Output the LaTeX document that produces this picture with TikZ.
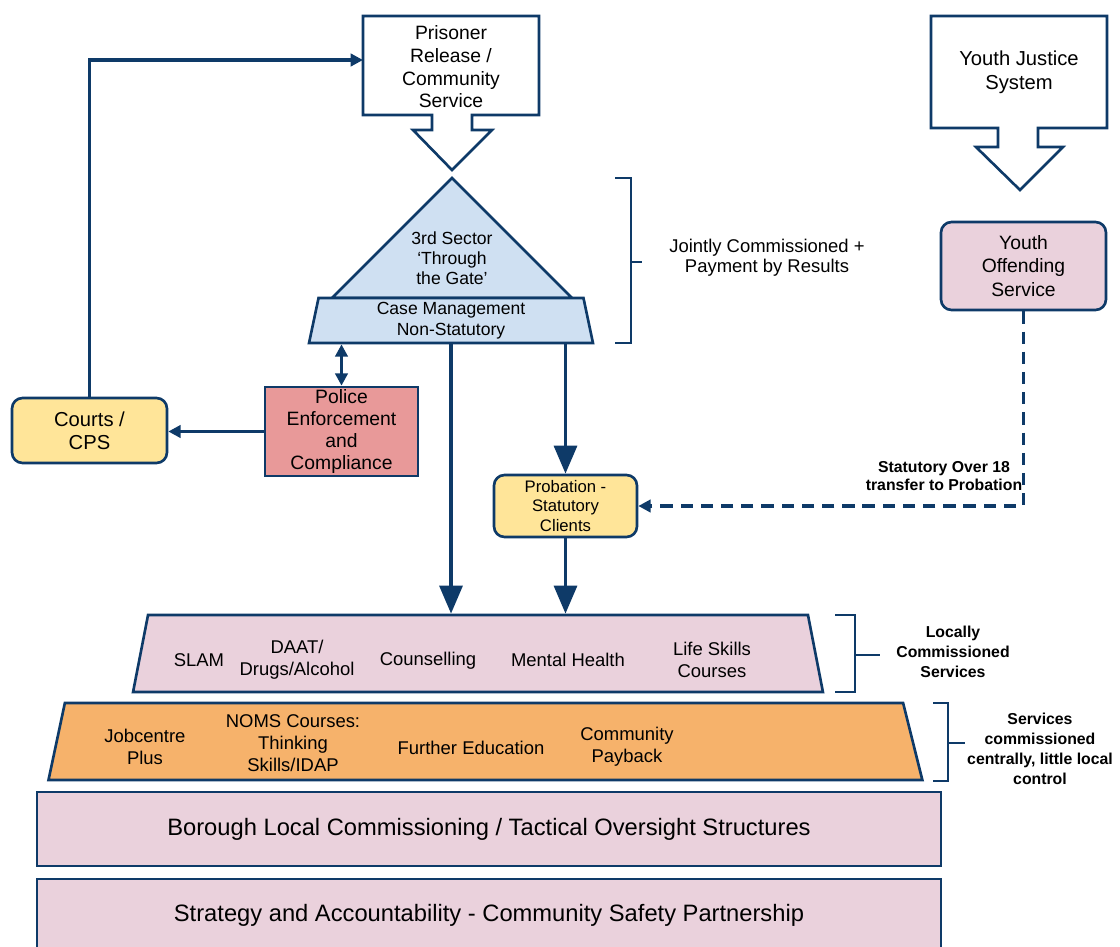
\documentclass[tikz,border=0pt]{standalone}
\usepackage{fontspec}
\setmainfont{Liberation Sans}
\usetikzlibrary{positioning,shapes.geometric,arrows.meta}

\definecolor{navy}{RGB}{14,58,104}
\definecolor{lightblue}{RGB}{207,224,242}
\definecolor{pinkbox}{RGB}{234,209,220}
\definecolor{yellowbox}{RGB}{255,229,153}
\definecolor{redbox}{RGB}{232,153,153}
\definecolor{orangebox}{RGB}{246,178,107}

\begin{document}
\begin{tikzpicture}[x=0.02cm, y=-0.02cm, line width=1.5pt,
  box/.style={draw=navy, fill=white, inner sep=0pt, align=center},
  rbox/.style={box, rounded corners=6pt},
  tbox/.style={trapezium, draw=navy, trapezium stretches body, inner sep=0pt, align=center},
  lbl/.style={align=center, inner sep=0pt},
  conn/.style={draw=navy, line width=2.2pt, -{Triangle[length=16pt,width=13pt]}},
  sconn/.style={draw=navy, line width=1.8pt, -{Triangle[length=7pt,width=7pt]}},
  itemfont/.style={font=\fontsize{10.5}{12.5}\selectfont},
  sidefont/.style={font=\bfseries\fontsize{9}{11.4}\selectfont}]
\useasboundingbox (0,0) rectangle (1120,947);
\clip (0,0) rectangle (1120,947);

\draw[navy, fill=white] (363,16) -- (539,16) -- (539,115) -- (472,115) -- (472,130) -- (492,130) -- (452,170) -- (413,130) -- (432,130) -- (432,115) -- (363,115) -- cycle;
\node[lbl, font=\fontsize{11}{12.9}\selectfont] (pris) at (451,67) {Prisoner\\Release /\\Community\\Service};
\coordinate (prisin) at (363,60);

\draw[navy, fill=white] (931,16) -- (1107,16) -- (1107,128) -- (1038,128) -- (1038,147) -- (1063,147) -- (1020,190) -- (976,147) -- (998,147) -- (998,128) -- (931,128) -- cycle;
\node[lbl, font=\fontsize{11.5}{13.6}\selectfont] (yjs) at (1019,72) {Youth Justice\\System};

\draw[navy, fill=lightblue] (452,178) -- (572,298) -- (332,298) -- cycle;
\node[lbl, font=\fontsize{10}{11.3}\selectfont] (gate) at (452,258) {3rd Sector\\`Through\\the Gate'};
\node[tbox, fill=lightblue, inner ysep=2.2pt, minimum width=5.68cm, minimum height=0.9cm, trapezium left angle=78, trapezium right angle=78, font=\fontsize{10}{12}\selectfont] (cm) at (451,320.5) {Case Management\\Non-Statutory};

\node[rbox, fill=pinkbox, minimum width=3.3cm, minimum height=1.76cm, font=\fontsize{11}{13.6}\selectfont] (yos) at (1023.5,266) {Youth\\Offending\\Service};
\node[rbox, fill=yellowbox, minimum width=3.1cm, minimum height=1.3cm, font=\fontsize{11.5}{13}\selectfont] (courts) at (89.5,430.5) {Courts /\\CPS};
\node[box, fill=redbox, minimum width=3.06cm, minimum height=1.78cm, font=\fontsize{11}{12.6}\selectfont] (police) at (341.5,431.5) {Police\\Enforcement\\and\\Compliance};
\node[rbox, fill=yellowbox, minimum width=2.86cm, minimum height=1.24cm, font=\fontsize{9.5}{11.3}\selectfont] (prob) at (565.5,506) {Probation -\\Statutory\\Clients};

\node[tbox, fill=pinkbox, minimum width=13.8cm, trapezium left angle=79, trapezium right angle=79] (loc) at (478,653.5) {\rule{0pt}{1.54cm}};
\node[lbl, itemfont] (slam) at (199,660) {SLAM};
\node[lbl, itemfont] (daat) at (297,660) {DAAT/\\Drugs/Alcohol};
\node[lbl, itemfont] (couns) at (428,661) {Counselling};
\node[lbl, itemfont] (mental) at (568,660) {Mental Health};
\node[lbl, itemfont] (life) at (712,660) {Life Skills\\Courses};

\node[tbox, fill=orangebox, minimum width=17.48cm, trapezium left angle=78, trapezium right angle=76] (cen) at (484,741.5) {\rule{0pt}{1.54cm}};
\node[lbl, itemfont] (jobs) at (145,747) {Jobcentre\\Plus};
\node[lbl, itemfont] (noms) at (293,743) {NOMS Courses:\\Thinking\\Skills/IDAP};
\node[lbl, itemfont] (fe) at (471,748) {Further Education};
\node[lbl, itemfont] (payback) at (627,747) {Community\\Payback};

\node[box, fill=pinkbox, minimum width=18.08cm, minimum height=1.48cm, font=\fontsize{13.5}{16}\selectfont] (boro) at (489,829) {Borough Local Commissioning / Tactical Oversight Structures};
\node[box, fill=pinkbox, minimum width=18.08cm, minimum height=1.46cm, font=\fontsize{13.5}{16}\selectfont] (csp) at (489,915.5) {Strategy and Accountability - Community Safety Partnership};

\draw[navy] (615,178) -- (631,178) -- (631,343) -- (615,343) (631,262) -- (642,262);
\node[lbl, font=\fontsize{10.5}{11.5}\selectfont] (joint) at (767,258) {Jointly Commissioned +\\Payment by Results};
\draw[navy] (835,615) -- (855,615) -- (855,692) -- (835,692) (855,655) -- (880,655);
\node[lbl, sidefont] (locally) at (953,652) {Locally\\Commissioned\\Services};
\draw[navy] (933,703) -- (948,703) -- (948,781) -- (933,781) (948,743) -- (965,743);
\node[lbl, sidefont] (central) at (1040,749) {Services\\commissioned\\centrally, little local\\control};

\draw[sconn] (courts.north) |- (prisin);
\draw[sconn, {Triangle[length=7pt,width=7pt]}-{Triangle[length=7pt,width=7pt]}] (police.north) -- (police.north |- cm.south);
\draw[sconn] (police.west) -- (police.west -| courts.east);
\draw[conn] (cm.south) -- (cm.south |- loc.north);
\draw[conn] (prob.north |- cm.south) -- (prob.north);
\draw[conn] (prob.south) -- (prob.south |- loc.north);
\draw[sconn, dash pattern=on 7pt off 4.5pt] (yos.south) |- (prob.east);
\node[lbl, sidefont, font=\bfseries\fontsize{9}{10.4}\selectfont] (over18) at (944,476) {Statutory Over 18\\transfer to Probation};
\end{tikzpicture}
\end{document}
